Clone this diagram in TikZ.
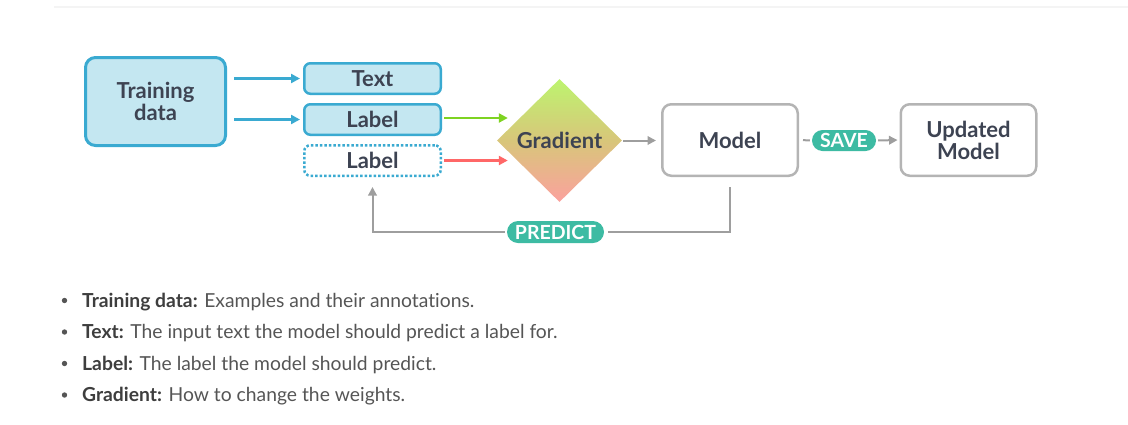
\documentclass[tikz,border=0pt]{standalone}
\usepackage{fontspec}
\setmainfont{Lato}[Ligatures=NoCommon]
\usepackage{xcolor}
\usetikzlibrary{shapes.geometric, arrows.meta, calc, positioning}

\definecolor{boxblue}{HTML}{C4E7F1}
\definecolor{lineblue}{HTML}{3AAAD1}
\definecolor{inkgray}{HTML}{3D4352}
\definecolor{wiregray}{HTML}{9E9E9E}
\definecolor{framegray}{HTML}{B4B4B4}
\definecolor{pillteal}{HTML}{3DBBA3}
\definecolor{gradgreen}{HTML}{7ED321}
\definecolor{gradred}{HTML}{FF6767}
\definecolor{diamtop}{HTML}{BDF46F}
\definecolor{diammid}{HTML}{D8C67A}
\definecolor{diambot}{HTML}{FBA19E}
\definecolor{bodygray}{HTML}{555555}
\definecolor{boldgray}{HTML}{3E3E3E}
\definecolor{rulegray}{HTML}{F4F4F4}

\tikzset{
  labelfont/.style={font=\fontsize{22}{22}\selectfont\bfseries, text=inkgray, align=center},
  databox/.style={labelfont, draw=lineblue, fill=boxblue, line width=2.5pt, rounded corners=6pt,
    minimum width=136.5pt, minimum height=30.5pt, inner sep=0pt},
  modelbox/.style={labelfont, draw=framegray, fill=white, line width=2.5pt, rounded corners=9pt,
    minimum width=135.5pt, minimum height=71.5pt, inner sep=0pt},
  pill/.style={fill=pillteal, text=white, font=\fontsize{19.5}{19}\selectfont\bfseries,
    rounded corners=10.5pt, minimum height=21pt, inner sep=0pt},
  blueflow/.style={lineblue, line width=2.5pt, -{Triangle[length=9pt,width=9pt]}},
  greyflow/.style={wiregray, line width=2pt, -{Triangle[length=8.5pt,width=8.5pt]}},
  greyline/.style={wiregray, line width=2pt},
  bulletline/.style={anchor=base west, font=\fontsize{19.3}{19}\selectfont, text=bodygray, inner sep=0pt}
}

\begin{document}
\begin{tikzpicture}[x=1pt, y=-1pt]
    \useasboundingbox (0,0) rectangle (1128,424);

    % Top rule
    \draw[rulegray, line width=2pt] (54,6.5) -- (1128,6.5);

    % Boxes
    \node[databox, line width=3pt, rounded corners=10pt, minimum width=140pt, minimum height=88pt]
        (train) at (155.5,101.5) {Training\\data};
    \node[databox] (text) at (372.5,78.5) {Text};
    \node[databox] (label) at (372.5,119.5) {Label};
    \node[databox, fill=white, dotted] (plabel) at (372.5,160.5) {Label};

    \node[labelfont, diamond, minimum width=125pt, minimum height=123pt, inner sep=0pt,
        top color=diamtop, bottom color=diambot, middle color=diammid]
        (grad) at (559.5,140.5) {Gradient};

    \node[modelbox] (model) at (730,140) {Model};
    \node[modelbox] (upd) at (968.5,140) {Updated\\Model};

    % Pills
    \node[pill, minimum width=64pt] (save) at (844,140.5) {SAVE};
    \node[pill, minimum width=97pt, rounded corners=11pt, minimum height=22pt] (pred) at (555.5,232) {PREDICT};

    % Inputs
    \draw[blueflow, shorten <=7pt, shorten >=3pt] (train.east |- text.west) -- (text.west);
    \draw[blueflow, shorten <=7pt, shorten >=3pt] (train.east |- label.west) -- (label.west);
    \draw[gradgreen, line width=2.5pt, -{Triangle[length=9pt,width=9pt]}, shorten <=2pt, shorten >=-11pt]
        ([yshift=1.5pt]label.east) -- ([yshift=1.5pt]label.east -| grad.west);
    \draw[gradred, line width=2.5pt, -{Triangle[length=9pt,width=9pt]}, shorten <=2pt, shorten >=-11pt]
        (plabel.east) -- (plabel.east -| grad.west);

    % Model flow
    \draw[greyflow, shorten <=1pt, shorten >=5pt] (grad.east) -- (grad.east -| model.west);
    \draw[greyline, shorten <=4pt, shorten >=2pt] (model.east) -- (save.west);
    \draw[greyflow, shorten <=2pt, shorten >=2pt] (save.east) -- (upd.west);

    % Predict loop
    \draw[greyline] ([yshift=-10pt]model.south) |- ([xshift=4pt]pred.east);
    \draw[greyflow] ([xshift=-2pt]pred.west) -| ([yshift=-10pt]plabel.south);

    % Legend
    \foreach \y in {307,338.5,370,401.5} {
        \fill[bodygray] (64.5,\y-6.5) circle (2.7);
    }
    \node[bulletline] (l1) at (82,307) {\textcolor{boldgray}{\bfseries Training data:} Examples and their annotations.};
    \node[bulletline] (l2) at (82,338.5) {\textcolor{boldgray}{\bfseries Text:} The input text the model should predict a label for.};
    \node[bulletline] (l3) at (82,370) {\textcolor{boldgray}{\bfseries Label:} The label the model should predict.};
    \node[bulletline] (l4) at (82,401.5) {\textcolor{boldgray}{\bfseries Gradient:} How to change the weights.};
\end{tikzpicture}
\end{document}
